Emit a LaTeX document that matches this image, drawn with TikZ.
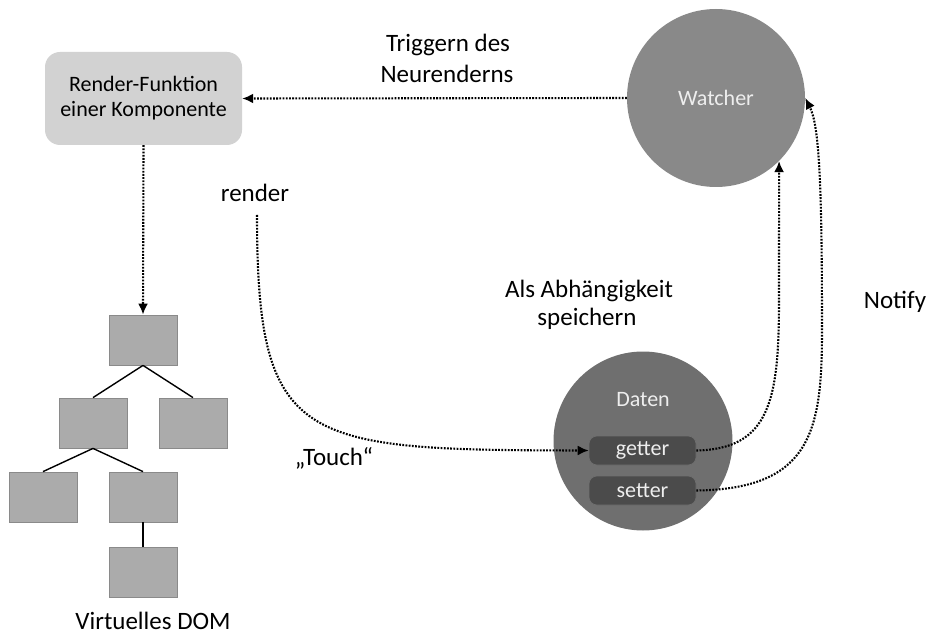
\documentclass[tikz,border=0pt]{standalone}
\usepackage{fontspec}
\setmainfont{Carlito}
\usetikzlibrary{arrows.meta}
\definecolor{boxlight}{HTML}{D2D2D2}
\definecolor{watchfill}{HTML}{898989}
\definecolor{datafill}{HTML}{6F6F6F}
\definecolor{gsfill}{HTML}{4B4B4B}
\definecolor{domfill}{HTML}{ABABAB}
\definecolor{domedge}{HTML}{8A8A8A}
\definecolor{lighttext}{HTML}{EEEEEE}
\tikzset{
  dotarrow/.style={line width=2.1pt, dash pattern=on 1.8pt off 1.4pt, -{Latex[length=11pt,width=10pt]}},
  dombox/.style={draw=domedge, line width=0.8pt, fill=domfill, minimum width=68pt, minimum height=50pt, inner sep=0pt},
  domline/.style={line width=1.4pt, black},
  lbl/.style={font=\fontsize{25}{30}\selectfont, text=black, inner sep=0pt, anchor=base},
  gsbox/.style={draw=gsfill!80!white, line width=0.6pt, fill=gsfill, rounded corners=8pt, minimum width=107pt, minimum height=29pt, inner sep=0pt, text=lighttext, font=\fontsize{22}{24}\selectfont}
}
\begin{document}
\begin{tikzpicture}[x=1pt,y=-1pt]
\useasboundingbox (0,0) rectangle (931,636);
% render function box
\node[fill=boxlight, rounded corners=15pt, minimum width=197pt, minimum height=93pt, inner sep=0pt, align=center, font=\fontsize{22}{25}\selectfont] (renderbox) at (143.5,98.5) {Render-Funktion\\einer Komponente};
% watcher
\node[circle, fill=watchfill, minimum size=178pt, inner sep=0pt, text=lighttext, font=\fontsize{22}{24}\selectfont] (watcher) at (716,98) {Watcher};
% daten
\node[circle, fill=datafill, minimum size=179pt, inner sep=0pt] (daten) at (643,441) {};
\node[text=lighttext, font=\fontsize{22}{24}\selectfont, inner sep=0pt, anchor=base] (datenlbl) at (643,406) {Daten};
\node[gsbox] (getter) at (642.5,450.5) {getter};
\node[gsbox] (setter) at (642.5,490.5) {setter};
% DOM tree
\node[dombox] (d0) at (143,340) {};
\node[dombox] (d1) at (93,423) {};
\node[dombox] (d2) at (193,423) {};
\node[dombox] (d3) at (43,497) {};
\node[dombox] (d4) at (143,497) {};
\node[dombox] (d5) at (143,572) {};
\draw[domline] (d0.south) -- (d1.north);
\draw[domline] (d0.south) -- (d2.north);
\draw[domline] (d1.south) -- (d3.north);
\draw[domline] (d1.south) -- (d4.north);
\draw[domline] (d4.south) -- (d5.north);
% labels
\node[lbl] (trig1) at (448,52) {Triggern des};
\node[lbl] (trig2) at (447,83) {Neurenderns};
\node[lbl] (renderlbl) at (255,202) {render};
\node[lbl] (als1) at (589,297) {Als Abhängigkeit};
\node[lbl] (als2) at (587,325) {speichern};
\node[lbl] (notify) at (895,308) {Notify};
\node[lbl] (touch) at (334,465) {„Touch“};
\node[lbl] (vdom) at (153,629) {Virtuelles DOM};
% connectors
\coordinate (rstart) at (257,215);
\draw[dotarrow] (watcher.west) -- (renderbox.east);
\draw[dotarrow] (renderbox.south) -- (d0.north);
\draw[dotarrow] (rstart) .. controls (257,445) and (300,450) .. (getter.west);
\draw[dotarrow] (getter.east) .. controls (770,449) and (779,400) .. (779,300) -- (watcher.-45);
\draw[dotarrow] (setter.east) .. controls (812,489) and (822,430) .. (822,330) .. controls (822,180) and (819,125) .. (watcher.east);
\end{tikzpicture}
\end{document}
